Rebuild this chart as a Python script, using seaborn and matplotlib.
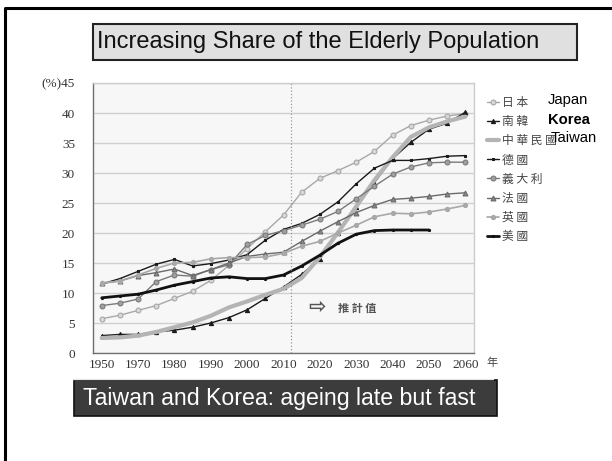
import numpy as np
import pandas as pd
import matplotlib
matplotlib.use('Agg')
import matplotlib.pyplot as plt
import seaborn as sns
from matplotlib.patches import Rectangle
from matplotlib.lines import Line2D
from matplotlib.font_manager import FontProperties

sns.set_theme(style='white')
plt.rcParams['font.family'] = ['Liberation Sans', 'Noto Sans CJK TC', 'DejaVu Sans']

# 数据 (百分比, 65岁以上人口占比)
YEARS = [1960, 1965, 1970, 1975, 1980, 1985, 1990, 1995, 2000, 2005, 2010,
         2015, 2020, 2025, 2030, 2035, 2040, 2045, 2050, 2055, 2060]
japan = [5.7, 6.3, 7.1, 7.9, 9.1, 10.3, 12.1, 14.6, 17.4, 20.2, 23.0,
         26.8, 29.1, 30.4, 31.8, 33.6, 36.3, 37.9, 38.8, 39.5, 39.9]
korea = [2.9, 3.1, 3.1, 3.5, 3.8, 4.3, 5.0, 5.9, 7.2, 9.1, 11.0,
         13.1, 15.7, 20.0, 24.3, 28.4, 32.4, 35.1, 37.3, 38.3, 40.1]
taiwan = [2.5, 2.6, 2.9, 3.5, 4.3, 5.1, 6.2, 7.6, 8.6, 9.7, 10.7,
          12.5, 16.0, 20.1, 24.4, 28.8, 32.6, 36.0, 37.6, 38.6, 39.4]
germany = [11.5, 12.4, 13.6, 14.8, 15.6, 14.5, 14.9, 15.5, 16.4, 18.8, 20.6,
           21.6, 23.1, 25.2, 28.2, 30.8, 32.1, 32.1, 32.4, 32.8, 32.9]
italy = [7.9, 8.3, 9.0, 11.9, 13.0, 12.8, 13.9, 14.7, 18.1, 19.6, 20.4,
         21.3, 22.3, 23.6, 25.7, 27.8, 29.8, 31.0, 31.7, 31.8, 31.8]
france = [11.6, 12.0, 12.9, 13.4, 14.0, 12.9, 13.9, 15.0, 16.1, 16.5, 16.8,
          18.6, 20.3, 21.9, 23.4, 24.6, 25.6, 25.8, 26.1, 26.5, 26.7]
uk = [11.7, 12.0, 13.0, 14.1, 15.0, 15.1, 15.7, 15.9, 15.9, 16.0, 16.6,
      17.8, 18.6, 20.0, 21.3, 22.7, 23.3, 23.2, 23.5, 24.0, 24.6]
usa = [9.2, 9.5, 9.8, 10.5, 11.3, 11.9, 12.5, 12.7, 12.4, 12.4, 13.0,
       14.5, 16.3, 18.3, 19.8, 20.4, 20.5, 20.5, 20.5, np.nan, np.nan]

XTICKS = [1960, 1970, 1980, 1990, 2000, 2010, 2020, 2030, 2040, 2050, 2060]
XTICK_LABELS = ['1950', '1970', '1980', '1990', '2000', '2010', '2020', '2030', '2040', '2050', '2060']
YTICKS = [0, 5, 10, 15, 20, 25, 30, 35, 40, 45]
YTICK_LABELS = ['0', '5', '10', '15', '20', '25', '30', '35', '40', '(%)45']

# 图例名称与样式
series = [
    ('日 本', japan, '#a8a8a8', 1.0, 'o', 3.5, '#d8d8d8'),
    ('南 韓', korea, '#1a1a1a', 1.0, '^', 3.0, '#1a1a1a'),
    ('中 華 民 國', taiwan, '#b4b4b4', 3.0, None, 0, None),
    ('德 國', germany, '#1a1a1a', 1.0, 's', 2.0, '#1a1a1a'),
    ('義 大 利', italy, '#7a7a7a', 1.0, 'o', 3.5, '#a0a0a0'),
    ('法 國', france, '#6a6a6a', 1.0, '^', 3.5, '#8a8a8a'),
    ('英 國', uk, '#a8a8a8', 1.2, 'o', 3.0, '#a8a8a8'),
    ('美 國', usa, '#111111', 2.0, '.', 3.0, '#111111'),
]

W, H = 612, 461
fig = plt.figure(figsize=(W / 100, H / 100), dpi=100)


def fx(px):
    return px / W


def fy(py):
    return 1 - py / H


ax = fig.add_axes([fx(93), fy(353), fx(474) - fx(93), fy(83) - fy(353)])
ax.set_facecolor('#f7f7f7')

for name, vals, color, lw, marker, ms, mfc in series:
    df = pd.DataFrame({'year': YEARS, 'share': vals}).dropna()
    kw = dict(marker=marker, markersize=ms, markerfacecolor=mfc, markeredgecolor=color,
              markeredgewidth=0.8) if marker else {}
    sns.lineplot(data=df, x='year', y='share', ax=ax, color=color, lw=lw, label=name, **kw)

ax.set_xlim(1957.6, 2062.4)
ax.set_ylim(0, 45)
ax.set_xticks(XTICKS)
ax.set_xticklabels(XTICK_LABELS)
ax.set_yticks(YTICKS)
ax.set_yticklabels(YTICK_LABELS)
ax.set_xlabel('')
ax.set_ylabel('')
ax.grid(axis='y', color='#cfcfcf', lw=1.0)
ax.set_axisbelow(True)
ax.axvline(2012, color='#9a9a9a', lw=0.9, ls=':')
ax.tick_params(axis='y', length=0, pad=13, labelsize=9.5, labelcolor='#333333')
ax.tick_params(axis='x', length=0, pad=4, labelsize=9.5, labelcolor='#333333')
for lab in ax.get_xticklabels() + ax.get_yticklabels():
    lab.set_family('Liberation Serif')
for side in ['left', 'bottom']:
    ax.spines[side].set_color('#707070')
    ax.spines[side].set_linewidth(1.0)
for side in ['top', 'right']:
    ax.spines[side].set_color('#cccccc')
    ax.spines[side].set_linewidth(1.0)

ax.text(2016.8, 7.6, '⇨', family=['DejaVu Sans'], fontsize=15, weight='bold', color='#555555',
        va='center', ha='left')
ax.text(2025.0, 7.5, '推 計 值', family=['Noto Sans CJK TC'], fontsize=8, weight='bold', color='#555555',
        va='center', ha='left')
fig.text(fx(486), fy(363), '年', family=['Noto Sans CJK TC'], fontsize=8, color='#444444',
         va='center', ha='left')

leg = ax.legend(loc='upper left', bbox_to_anchor=(fx(487), fy(96)), bbox_transform=fig.transFigure,
                frameon=False, prop=FontProperties(family='Noto Sans CJK TC', size=8.5),
                handlelength=1.0, handletextpad=0.3, labelspacing=0.52, borderpad=0, borderaxespad=0)
for t in leg.get_texts():
    t.set_color('#444444')

# 英文标注
fig.text(fx(548), fy(100), 'Japan', fontsize=10.6, color='black', va='center', ha='left')
fig.text(fx(548), fy(120), 'Korea', fontsize=10.6, weight='bold', color='black', va='center', ha='left')
fig.text(fx(551), fy(138), 'Taiwan', fontsize=10.6, color='black', va='center', ha='left')

# 标题框
fig.patches.append(Rectangle((fx(93), fy(60)), fx(577) - fx(93), fy(24) - fy(60), transform=fig.transFigure,
                             facecolor='#e0e0e0', edgecolor='#222222', lw=1.5))
fig.text(fx(97), fy(42), 'Increasing Share of the Elderly Population', fontsize=17, color='#111111',
         va='center', ha='left')

# 底部框
fig.patches.append(Rectangle((fx(74), fy(416)), fx(497) - fx(74), fy(380) - fy(416), transform=fig.transFigure,
                             facecolor='#3c3c3c', edgecolor='#111111', lw=1.2))
fig.text(fx(83), fy(398), 'Taiwan and Korea: ageing late but fast', fontsize=16.7, color='white',
         va='center', ha='left')

# 外框与分隔线
fig.lines.append(Line2D([fx(5), fx(5), fx(612)], [fy(461), fy(8), fy(8)], transform=fig.transFigure,
                        color='black', lw=2.2))
fig.lines.append(Line2D([fx(73), fx(493)], [fy(379), fy(379)], transform=fig.transFigure,
                        color='#e8e8e8', lw=1.0))

fig.savefig('out.png', dpi=100)
